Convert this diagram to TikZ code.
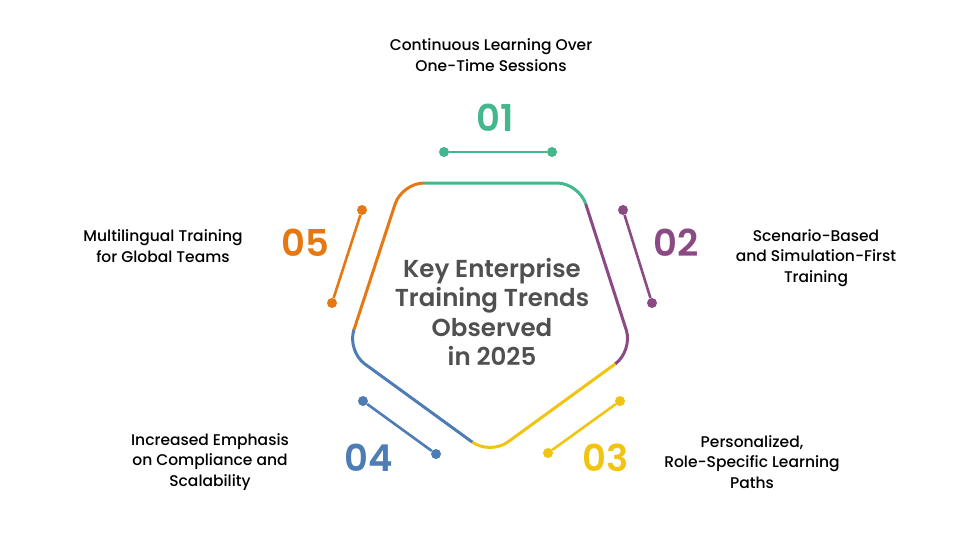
\documentclass[tikz,border=0pt]{standalone}
\usepackage{fontspec}
\setmainfont{Poppins}
\newfontfamily\medfont{Poppins Medium}
\newfontfamily\numfont{Poppins SemiBold}
\usetikzlibrary{calc}
\definecolor{trendgreen}{RGB}{68,184,140}
\definecolor{trendpurple}{RGB}{139,74,132}
\definecolor{trendyellow}{RGB}{241,196,20}
\definecolor{trendblue}{RGB}{78,125,182}
\definecolor{trendorange}{RGB}{229,120,18}
\definecolor{titlegray}{RGB}{80,80,80}
\tikzset{
  rim/.style={line width=3pt, rounded corners=22pt},
  link/.style={line width=2.6pt},
  dot/.style={circle, fill, inner sep=0pt, minimum size=10pt},
  num/.style={font=\numfont\fontsize{37}{40}\selectfont},
  trendtext/.style={align=center, font=\medfont\fontsize{15.5}{20.5}\selectfont},
}
\begin{document}
\begin{tikzpicture}[x=1pt,y=-1pt]
\useasboundingbox (0,0) rectangle (980,533);
% pentagon corners
\coordinate (T1) at (402,183);
\coordinate (T2) at (579,183);
\coordinate (R) at (633,351);
\coordinate (B) at (490,455);
\coordinate (L) at (347,351);
\draw [rim,trendgreen] ($(T1)!22pt!(T2)$) -- (T2) -- ($(T2)!22pt!(R)$);
\draw [rim,trendpurple] ($(T2)!22pt!(R)$) -- (R) -- ($(R)!22pt!(B)$);
\draw [rim,trendyellow] ($(R)!22pt!(B)$) -- (B) -- ($(B)!22pt!(L)$);
\draw [rim,trendblue] ($(B)!22pt!(L)$) -- (L) -- ($(L)!22pt!(T1)$);
\draw [rim,trendorange] ($(L)!22pt!(T1)$) -- (T1) -- ($(T1)!22pt!(T2)$);
\node [align=center, text=titlegray, font=\numfont\fontsize{24.5}{29.5}\selectfont] (title) at (492,312) {Key Enterprise\\Training Trends\\Observed\\in 2025};
% 01
\node [dot,trendgreen] (d1a) at (444,152) {};
\node [dot,trendgreen] (d1b) at (552,152) {};
\draw [link,trendgreen] (d1a) -- (d1b);
\node [num,text=trendgreen] (n1) at (495,118) {01};
\node [trendtext] (t1) at (491,55) {Continuous Learning Over\\One-Time Sessions};
% 02
\node [dot,trendpurple] (d2a) at (623,210) {};
\node [dot,trendpurple] (d2b) at (652,303) {};
\draw [link,trendpurple] (d2a) -- (d2b);
\node [num,text=trendpurple] (n2) at (676,243) {02};
\node [trendtext] (t2) at (816,258) {Scenario-Based\\and Simulation-First\\Training};
% 03
\node [dot,trendyellow] (d3a) at (620,401) {};
\node [dot,trendyellow] (d3b) at (548,453) {};
\draw [link,trendyellow] (d3a) -- (d3b);
\node [num,text=trendyellow] (n3) at (606,458) {03};
\node [trendtext] (t3) at (752,462) {Personalized,\\Role-Specific Learning\\Paths};
% 04
\node [dot,trendblue] (d4a) at (363,401) {};
\node [dot,trendblue] (d4b) at (436,454) {};
\draw [link,trendblue] (d4a) -- (d4b);
\node [num,text=trendblue] (n4) at (369,458) {04};
\node [trendtext] (t4) at (210,462) {Increased Emphasis\\on Compliance and\\Scalability};
% 05
\node [dot,trendorange] (d5a) at (362,210) {};
\node [dot,trendorange] (d5b) at (332,303) {};
\draw [link,trendorange] (d5a) -- (d5b);
\node [num,text=trendorange] (n5) at (305,243) {05};
\node [trendtext] (t5) at (163,246) {Multilingual Training\\for Global Teams};
\end{tikzpicture}
\end{document}
